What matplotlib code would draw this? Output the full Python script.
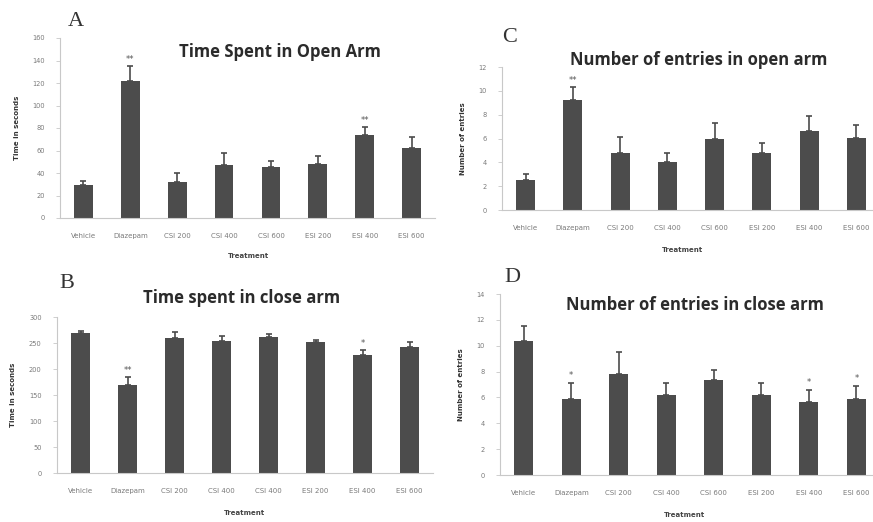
import matplotlib
matplotlib.use("Agg")
import matplotlib.pyplot as plt
import numpy as np

# ---------------- data ----------------
labels_main = ["Vehicle", "Diazepam", "CSI 200", "CSI 400", "CSI 600", "ESI 200", "ESI 400", "ESI 600"]
labels_b = ["Vehicle", "Diazepam", "CSI 200", "CSI 400", "CSI 400", "ESI 200", "ESI 400", "ESI 600"]

open_time = [29, 122, 32, 47, 45.5, 48, 74, 62]
open_time_err = [4, 13, 8, 11, 5.5, 7, 7, 10]
open_time_sig = ["", "**", "", "", "", "", "**", ""]

close_time = [270, 169, 259, 254, 262, 251, 227, 242]
close_time_err = [4, 15, 13, 9, 6, 5, 9, 9]
close_time_sig = ["", "**", "", "", "", "", "*", ""]

open_entries = [2.5, 9.2, 4.8, 4.0, 6.0, 4.8, 6.6, 6.05]
open_entries_err = [0.5, 1.1, 1.3, 0.8, 1.3, 0.8, 1.3, 1.05]
open_entries_sig = ["", "**", "", "", "", "", "", ""]

close_entries = [10.4, 5.85, 7.85, 6.2, 7.35, 6.2, 5.65, 5.85]
close_entries_err = [1.1, 1.25, 1.65, 0.9, 0.75, 0.9, 0.9, 1.05]
close_entries_sig = ["", "*", "", "", "", "", "*", "*"]

W, H = 873, 522
fig = plt.figure(figsize=(W / 100, H / 100), dpi=100)
fig.patch.set_facecolor("white")

BAR = "#4c4c4c"
GRAY = "#7a7a7a"
SPINE = "#c8c8c8"


def px_axes(left, right, top, bottom):
    return fig.add_axes([left / W, 1 - bottom / H, (right - left) / W, (bottom - top) / H])


def panel(ax, labels, vals, errs, sig, ymax, ystep, xmax, ylabel, star_off):
    x = np.arange(len(vals))
    ax.bar(x, vals, width=0.4, color=BAR, zorder=2)
    ax.errorbar(x, vals, yerr=[np.zeros(len(errs)), errs], fmt="none",
                ecolor=BAR, elinewidth=1.2, capsize=2.5, capthick=1.2, zorder=3)
    for xi, v, e, s in zip(x, vals, errs, sig):
        if s:
            ax.text(xi, v + e + star_off, s, ha="center", va="bottom",
                    fontsize=6, color="#555555")
    ax.set_xlim(-0.5, xmax)
    ax.set_ylim(0, ymax)
    ax.set_yticks(np.arange(0, ymax + ystep / 2, ystep))
    ax.set_xticks(x)
    ax.set_xticklabels(labels)
    for sp in ["top", "right"]:
        ax.spines[sp].set_visible(False)
    for sp in ["left", "bottom"]:
        ax.spines[sp].set_color(SPINE)
        ax.spines[sp].set_linewidth(0.8)
    ax.tick_params(axis="y", colors=SPINE, labelcolor=GRAY, labelsize=4.8,
                   length=3, width=0.6, pad=8)
    ax.tick_params(axis="x", length=0, labelcolor=GRAY, labelsize=5, pad=11)
    ax.set_ylabel(ylabel, fontsize=5, fontweight="bold", color="#333333", labelpad=9)


# Panel A
axA = px_axes(60, 435, 38, 218)
panel(axA, labels_main, open_time, open_time_err, open_time_sig, 160, 20, 7.5,
      "Time in seconds", 2)
# Panel C
axC = px_axes(502, 873, 67, 210)
panel(axC, labels_main, open_entries, open_entries_err, open_entries_sig, 12, 2, 7.35,
      "Number of entries", 0.2)
# Panel B
axB = px_axes(57, 433, 317, 473)
panel(axB, labels_b, close_time, close_time_err, close_time_sig, 300, 50, 7.5,
      "Time in seconds", 4)
# Panel D
axD = px_axes(500, 873, 294, 475)
panel(axD, labels_main, close_entries, close_entries_err, close_entries_sig, 14, 2, 7.35,
      "Number of entries", 0.25)

title_kw = dict(fontsize=12, fontweight="bold", color="#2b2b2b", family="Open Sans",
                ha="center", va="center")
fig.text(280 / W, 1 - 52 / H, "Time Spent in Open Arm", **title_kw)
fig.text(699 / W, 1 - 60 / H, "Number of entries in open arm", **title_kw)
fig.text(242 / W, 1 - 298 / H, "Time spent in close arm", **title_kw)
fig.text(695 / W, 1 - 305 / H, "Number of entries in close arm", **title_kw)

letter_kw = dict(fontsize=16, family="Liberation Serif", color="#333333",
                 ha="center", va="center")
fig.text(76 / W, 1 - 22 / H, "A", **letter_kw)
fig.text(510 / W, 1 - 38 / H, "C", **letter_kw)
fig.text(67 / W, 1 - 284 / H, "B", **letter_kw)
fig.text(512 / W, 1 - 277 / H, "D", **letter_kw)

tr_kw = dict(fontsize=5, fontweight="bold", color="#444444", ha="center", va="center")
fig.text(248 / W, 1 - 256 / H, "Treatment", **tr_kw)
fig.text(682 / W, 1 - 250 / H, "Treatment", **tr_kw)
fig.text(245 / W, 1 - 513 / H, "Treatment", **tr_kw)
fig.text(684 / W, 1 - 515 / H, "Treatment", **tr_kw)

fig.savefig("out.png", dpi=100, facecolor="white")
